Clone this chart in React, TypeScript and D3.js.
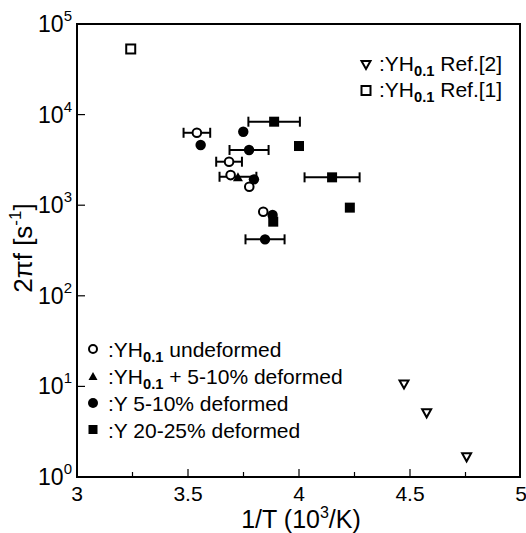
import * as d3 from "d3"

// axis ticks
const xMajor = [3, 3.5, 4, 4.5, 5]
const xMinor = [3.25, 3.75, 4.25, 4.75]
const yExps = [0, 1, 2, 3, 4, 5]

// YH0.1 undeformed (open circles)
const ocX = [3.54, 3.685, 3.692, 3.776, 3.839]
const ocY = [6300, 3020, 2150, 1600, 848]
const ocErr = [0.06, 0.058, 0, 0, 0]

// YH0.1 + 5-10% deformed (filled triangles)
const ftX = [3.725]
const ftY = [2060]
const ftErr = [0.083]

// Y 5-10% deformed (filled circles)
const fcX = [3.749, 3.557, 3.775, 3.797, 3.881, 3.847]
const fcY = [6470, 4620, 4070, 1930, 780, 420]
const fcErr = [0, 0, 0.088, 0, 0, 0.088]

// Y 20-25% deformed (filled squares)
const fsX = [3.888, 4.0, 4.149, 4.229, 3.884]
const fsY = [8350, 4500, 2030, 940, 658]
const fsErr = [0.116, 0, 0.124, 0, 0]

// Ref.[1] (open squares), Ref.[2] (open down triangles)
const osX = [3.242]
const osY = [53000]
const otX = [4.473, 4.575, 4.755]
const otY = [10.5, 5.05, 1.65]

const W = 526
const H = 533
const left = 77
const right = 521
const top = 24
const bottom = 477
const font = "'Liberation Sans', Arial, sans-serif"

const x = d3.scaleLinear().domain([3, 5]).range([left, right])
const y = d3.scaleLog().domain([1, 1e5]).range([bottom, top])

const tri = (cx: number, cy: number, s: number, down: boolean) => {
  const h = s * 0.9
  return down
    ? `M${cx - s / 2},${cy - h / 2}L${cx + s / 2},${cy - h / 2}L${cx},${cy + h / 2}Z`
    : `M${cx - s / 2},${cy + h / 2}L${cx + s / 2},${cy + h / 2}L${cx},${cy - h / 2}Z`
}

const ErrBar = ({ xv, yv, e }: { xv: number; yv: number; e: number }) => {
  if (!e) return null
  const x0 = x(xv - e)
  const x1 = x(xv + e)
  const cy = y(yv)
  return (
    <g stroke="#000" strokeWidth={2}>
      <line x1={x0} x2={x1} y1={cy} y2={cy} />
      <line x1={x0} x2={x0} y1={cy - 5} y2={cy + 5} />
      <line x1={x1} x2={x1} y1={cy - 5} y2={cy + 5} />
    </g>
  )
}

const Sub = ({ t }: { t: string }) => (
  <tspan fontSize="0.7em" fontWeight="bold" dy={5}>
    {t}
  </tspan>
)

export default function App() {
  return (
    <svg
      width={W}
      height={H}
      style={{ position: "absolute", left: 0, top: 0, background: "#fff" }}
      fontFamily={font}
    >
      {/* frame */}
      <rect x={left} y={top} width={right - 1 - left} height={bottom - top} fill="none" stroke="#000" strokeWidth={2} />

      {/* x ticks */}
      {xMajor.slice(1, -1).map((v) => (
        <line key={v} x1={x(v)} x2={x(v)} y1={bottom} y2={bottom - 8} stroke="#000" strokeWidth={1.2} />
      ))}
      {xMinor.map((v) => (
        <line key={v} x1={x(v)} x2={x(v)} y1={bottom} y2={bottom - 5} stroke="#000" strokeWidth={1.2} />
      ))}
      {xMajor.map((v) => (
        <text key={v} x={x(v)} y={bottom + 24} textAnchor="middle" fontSize={21}>
          {String(v)}
        </text>
      ))}

      {/* y ticks */}
      {yExps.slice(1, -1).map((e) => (
        <line key={e} x1={left} x2={left + 8} y1={y(10 ** e)} y2={y(10 ** e)} stroke="#000" strokeWidth={1.2} />
      ))}
      {yExps.map((e) => (
        <text key={e} x={left - 5} y={y(10 ** e) + 8} textAnchor="end" fontSize={23}>
          10
          <tspan fontSize={15} dy={-11}>
            {String(e)}
          </tspan>
        </text>
      ))}

      {/* axis titles */}
      <text x={(left + right) / 2 + 2} y={528} textAnchor="middle" fontSize={25}>
        1/T (10
        <tspan fontSize={16} dy={-10}>
          3
        </tspan>
        <tspan dy={10}>/K)</tspan>
      </text>
      <text transform="translate(32,248) rotate(-90)" textAnchor="middle" fontSize={26}>
        2πf [s
        <tspan fontSize={17} dy={-11}>
          -1
        </tspan>
        <tspan dy={11}>]</tspan>
      </text>

      {/* error bars */}
      {ocX.map((v, i) => <ErrBar key={"oc" + i} xv={v} yv={ocY[i]} e={ocErr[i]} />)}
      {ftX.map((v, i) => <ErrBar key={"ft" + i} xv={v} yv={ftY[i]} e={ftErr[i]} />)}
      {fcX.map((v, i) => <ErrBar key={"fc" + i} xv={v} yv={fcY[i]} e={fcErr[i]} />)}
      {fsX.map((v, i) => <ErrBar key={"fs" + i} xv={v} yv={fsY[i]} e={fsErr[i]} />)}

      {/* markers */}
      {fsX.map((v, i) => (
        <rect key={"s" + i} x={x(v) - 5} y={y(fsY[i]) - 5} width={10} height={10} fill="#000" />
      ))}
      {fcX.map((v, i) => (
        <circle key={"c" + i} cx={x(v)} cy={y(fcY[i])} r={5.2} fill="#000" />
      ))}
      {ftX.map((v, i) => (
        <path key={"t" + i} d={tri(x(v), y(ftY[i]), 10, false)} fill="#000" />
      ))}
      {ocX.map((v, i) => (
        <circle key={"o" + i} cx={x(v)} cy={y(ocY[i])} r={4.3} fill="#fff" stroke="#000" strokeWidth={2} />
      ))}
      {osX.map((v, i) => (
        <rect key={"os" + i} x={x(v) - 4.5} y={y(osY[i]) - 4.5} width={9} height={9} fill="#fff" stroke="#000" strokeWidth={2} />
      ))}
      {otX.map((v, i) => (
        <path key={"ot" + i} d={tri(x(v), y(otY[i]), 9, true)} fill="#fff" stroke="#000" strokeWidth={2} />
      ))}

      {/* top-right legend */}
      <path d={tri(366, 65, 9, true)} fill="#fff" stroke="#000" strokeWidth={2} />
      <text x={379} y={71} fontSize={21}>
        :YH<Sub t="0.1" />
        <tspan dy={-5}> Ref.[2]</tspan>
      </text>
      <rect x={361.5} y={86} width={9} height={9} fill="#fff" stroke="#000" strokeWidth={2} />
      <text x={379} y={97} fontSize={21}>
        :YH<Sub t="0.1" />
        <tspan dy={-5}> Ref.[1]</tspan>
      </text>

      {/* bottom-left legend */}
      <circle cx={93} cy={349} r={4} fill="#fff" stroke="#000" strokeWidth={2} />
      <text x={108} y={357} fontSize={21}>
        :YH<Sub t="0.1" />
        <tspan dy={-5}> undeformed</tspan>
      </text>
      <path d={tri(93, 376, 9, false)} fill="#000" />
      <text x={108} y={384} fontSize={21}>
        :YH<Sub t="0.1" />
        <tspan dy={-5}> + 5-10% deformed</tspan>
      </text>
      <circle cx={93} cy={403} r={5} fill="#000" />
      <text x={108} y={411} fontSize={21}>
        :Y 5-10% deformed
      </text>
      <rect x={88.5} y={425} width={9} height={9} fill="#000" />
      <text x={108} y={438} fontSize={21}>
        :Y 20-25% deformed
      </text>
    </svg>
  )
}
